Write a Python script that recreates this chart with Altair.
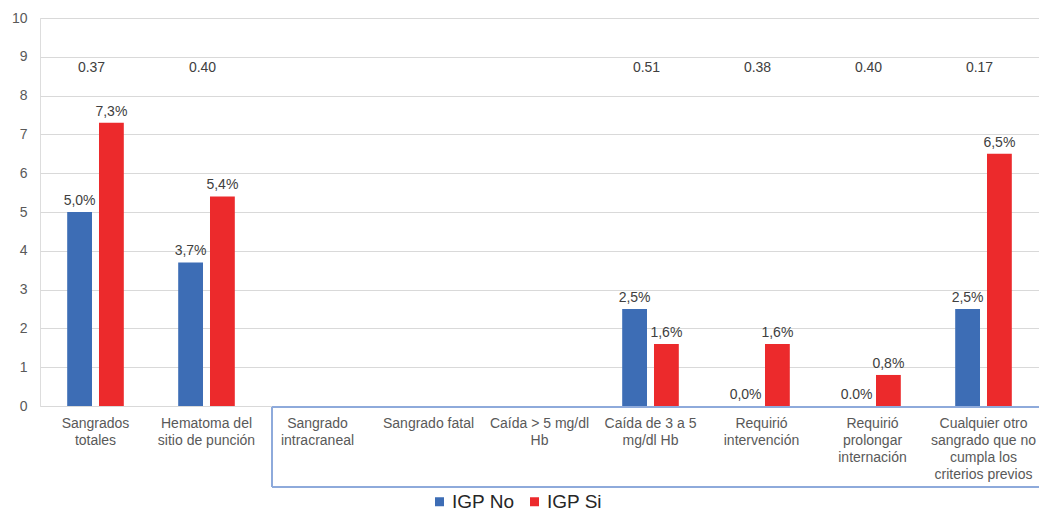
import altair as alt
import pandas as pd

categories = [
    "Sangrados|totales",
    "Hematoma del|sitio de punción",
    "Sangrado|intracraneal",
    "Sangrado fatal",
    "Caída > 5 mg/dl|Hb",
    "Caída de 3 a 5|mg/dl Hb",
    "Requirió|intervención",
    "Requirió|prolongar|internación",
    "Cualquier otro|sangrado que no|cumpla los|criterios previos",
]
igp_no = [5.0, 3.7, None, None, None, 2.5, 0.0, 0.0, 2.5]
igp_si = [7.3, 5.4, None, None, None, 1.6, 1.6, 0.8, 6.5]
igp_no_labels = ["5,0%", "3,7%", None, None, None, "2,5%", "0,0%", "0.0%", "2,5%"]
igp_si_labels = ["7,3%", "5,4%", None, None, None, "1,6%", "1,6%", "0,8%", "6,5%"]
p_values = ["0.37", "0.40", None, None, None, "0.51", "0.38", "0.40", "0.17"]
series = ["IGP No", "IGP Si"]
colors = ["#3D6DB5", "#EC2A2C"]

rows = []
for c, v, l in zip(categories, igp_no, igp_no_labels):
    if v is not None:
        rows.append({"cat": c, "serie": "IGP No", "val": v, "lab": l})
for c, v, l in zip(categories, igp_si, igp_si_labels):
    if v is not None:
        rows.append({"cat": c, "serie": "IGP Si", "val": v, "lab": l})
df = pd.DataFrame(rows)
pdf = pd.DataFrame([{"cat": c, "p": p, "val": 8.7} for c, p in zip(categories, p_values) if p is not None])

W, H = 999, 388
font = "Liberation Sans"

xscale = alt.Scale(domain=categories, paddingInner=0.49, paddingOuter=0.245)
xoff_scale = alt.Scale(domain=series, paddingInner=0.22, paddingOuter=0)
yscale = alt.Scale(domain=[0, 10], nice=False)

x_axis = alt.Axis(labelExpr="split(datum.label, '|')", labelAngle=0,
                  labelLimit=0, labelPadding=10, labelBaseline="top",
                  labelLineHeight=17, labelFontSize=14,
                  labelColor="#595959", labelFont=font,
                  ticks=False, domain=False, grid=False)
y_axis = alt.Axis(values=list(range(0, 11)), ticks=False, labelOverlap=False,
                  domain=False, labelColor="#595959", labelFontSize=14,
                  labelFont=font, labelPadding=13, grid=True,
                  gridColor="#D9D9D9", gridWidth=1)


def xe():
    return alt.X("cat:N", scale=xscale, sort=categories, title=None, axis=x_axis)


def ye():
    return alt.Y("val:Q", scale=yscale, title=None, axis=y_axis)


bars = alt.Chart(df).mark_bar().encode(
    x=xe(),
    xOffset=alt.XOffset("serie:N", scale=xoff_scale, sort=series),
    y=ye(),
    color=alt.Color("serie:N", scale=alt.Scale(domain=series, range=colors),
                    legend=alt.Legend(title=None, orient="none", direction="horizontal",
                                      legendX=390, legendY=474, symbolType="square",
                                      symbolSize=81, labelFontSize=19, labelFont=font,
                                      labelColor="#262626", columnPadding=10,
                                      labelOffset=3, symbolStrokeWidth=0)),
)

labels = alt.Chart(df).mark_text(baseline="bottom", dy=-4, fontSize=14, font=font,
                                 color="#404040").encode(
    x=xe(),
    xOffset=alt.XOffset("serie:N", scale=xoff_scale, sort=series),
    y=ye(),
    text="lab:N",
)

ptext = alt.Chart(pdf).mark_text(baseline="middle", dx=-4, fontSize=14, font=font,
                                 color="#404040").encode(
    x=xe(),
    y=ye(),
    text="p:N",
)

one = pd.DataFrame({"a": [0]})
box_color = "#8EAADB"
top_line = alt.Chart(one).mark_rule(color=box_color, strokeWidth=2).encode(
    x=alt.value(232), x2=alt.value(W), y=alt.value(H + 1))
left_line = alt.Chart(one).mark_rule(color=box_color, strokeWidth=2).encode(
    x=alt.value(232), y=alt.value(H + 1), y2=alt.value(469))
bottom_line = alt.Chart(one).mark_rule(color=box_color, strokeWidth=2).encode(
    x=alt.value(232), x2=alt.value(W), y=alt.value(469))

chart = alt.layer(bars, labels, ptext, top_line, left_line, bottom_line).properties(
    width=W, height=H,
    autosize=alt.AutoSizeParams(type="none"),
    padding={"left": 40, "top": 18, "right": 0, "bottom": 110},
).configure_view(stroke=None).configure(background="white")

chart.save("out.html", embed_options={"renderer": "svg", "actions": False})
